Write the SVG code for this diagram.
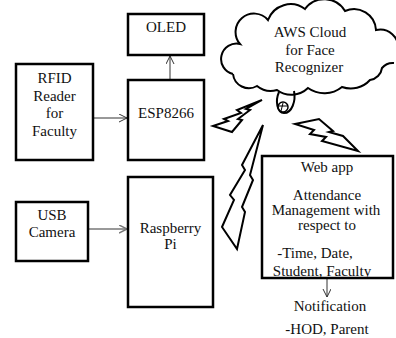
<svg xmlns="http://www.w3.org/2000/svg" width="396" height="338" viewBox="0 0 396 338">
<style>
.box{fill:#fff;stroke:#000;stroke-width:2.5}
.t{font-family:"Liberation Serif",Tinos,"Times New Roman","DejaVu Serif",serif;font-size:15px;fill:#111;text-anchor:middle}
.ln{fill:none;stroke:#333;stroke-width:1}
.bolt{fill:#fff;stroke:#000;stroke-width:2;stroke-linejoin:miter}
</style>
<defs>
<marker id="ah" markerWidth="10" markerHeight="10" refX="8" refY="4" orient="auto" markerUnits="userSpaceOnUse">
<path d="M0,0 L8,4 L0,8" fill="none" stroke="#333" stroke-width="1"/>
</marker>
<marker id="ahg" markerWidth="10" markerHeight="10" refX="8" refY="4" orient="auto" markerUnits="userSpaceOnUse">
<path d="M0,0 L8,4 L0,8" fill="none" stroke="#777" stroke-width="1.5"/>
</marker>
<clipPath id="wc"><rect x="262" y="156" width="131" height="121"/></clipPath>
</defs>
<rect width="396" height="338" fill="#fff"/>

<g id="connectors">
<line class="ln" x1="170" y1="80" x2="170" y2="56" marker-end="url(#ah)"/>
<line class="ln" x1="93" y1="118" x2="127" y2="118" marker-end="url(#ah)"/>
<line x1="88" y1="229" x2="127" y2="229" stroke="#777" stroke-width="1.5" marker-end="url(#ahg)"/>
<line class="ln" x1="327" y1="278" x2="327" y2="297" marker-end="url(#ah)"/>
<path class="bolt" d="M262,100 L237,110 L241,113 L224,119 L228,121 L213,126 L232,132 L242,120 L238,119 L250,110 L246,109 Z"/>
<path class="bolt" d="M263,125 L242,165 L245,170 L230,195 L234,200 L222,227 L237,249 L245,212 L242,207 L253,180 L250,175 Z"/>
<path class="bolt" d="M295,124 L319,119 L333,131 L329,132 L343,136 L358,151 L322,141 L326,137 L310,134 L314,130 Z"/>
</g>

<g id="oled">
<rect class="box" x="128" y="14" width="76" height="41"/>
<text class="t" x="166" y="32">OLED</text>
</g>

<g id="rfid">
<rect class="box" x="16" y="64" width="77" height="96"/>
<text class="t" x="54.5" y="83">RFID</text>
<text class="t" x="54.5" y="101">Reader</text>
<text class="t" x="54.5" y="118">for</text>
<text class="t" x="54.5" y="136">Faculty</text>
</g>

<g id="esp">
<rect class="box" x="128" y="80" width="76" height="80"/>
<text class="t" x="166" y="118">ESP8266</text>
</g>

<g id="usb">
<rect class="box" x="16" y="202" width="72" height="59"/>
<text class="t" x="52" y="220">USB</text>
<text class="t" x="52" y="237">Camera</text>
</g>

<g id="raspberry">
<rect class="box" x="128" y="177" width="85" height="130"/>
<text class="t" x="170.5" y="233">Raspberry</text>
<text class="t" x="170.5" y="249">Pi</text>
</g>

<g id="cloud">
<path d="M233,74 A12,12 0 0 1 240,44 A18,18 0 0 1 268,20 A24,24 0 0 1 305,9 A24,24 0 0 1 345,11 A22,22 0 0 1 376,30 A18,18 0 0 1 398,50 L398,64 M394,63 A14,14 0 0 0 382,68 A14,14 0 0 1 370,80 A26,26 0 0 1 342,87 A28,28 0 0 1 308,88 A24,24 0 0 1 277,90 A22,22 0 0 1 257,86 A16,16 0 0 1 233,74" fill="#fff" stroke="#000" stroke-width="2"/>
<path d="M279,92 C275,101 277,113 284,113 C292,113 296,101 294,91" fill="none" stroke="#000" stroke-width="2"/>
<circle cx="283" cy="107" r="5" fill="none" stroke="#000" stroke-width="1.5"/>
<path d="M279,106 L287,106 M283,103 L281,111" stroke="#000" stroke-width="1"/>
<text class="t" x="310" y="37">AWS Cloud</text>
<text class="t" x="310" y="55">for Face</text>
<text class="t" x="309" y="72">Recognizer</text>
</g>

<g id="webapp">
<rect class="box" x="262" y="156" width="131" height="122"/>
<text class="t" x="327" y="172">Web app</text>
<text class="t" x="327" y="200">Attendance</text>
<text class="t" x="326" y="215">Management with</text>
<text class="t" x="327" y="230">respect to</text>
<text class="t" x="315" y="258">-Time, Date,</text>
<text class="t" x="322" y="276" clip-path="url(#wc)">Student, Faculty</text>
</g>

<g id="notification">
<text class="t" x="330" y="311">Notification</text>
<text class="t" x="327" y="334">-HOD, Parent</text>
</g>
</svg>
